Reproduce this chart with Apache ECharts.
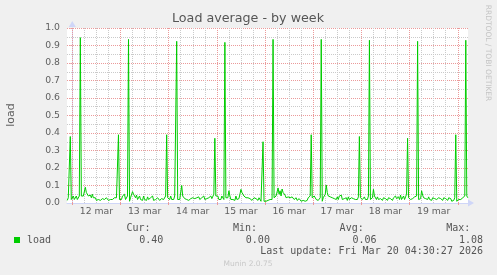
<!DOCTYPE html>
<html><head><meta charset="utf-8">
<script src="https://cdn.jsdelivr.net/npm/echarts@6/dist/echarts.min.js"></script>
<style>html,body{margin:0;padding:0;background:#f0f0f0;}#c{width:497px;height:275px;}</style>
</head><body><div id="c"></div>
<script>
// Time is in hours relative to Mar 12 00:00; one sample every 30 minutes
const startHour = -2.5; // Mar 11 21:30
const stepHours = 0.5;
const loadMar11 = [0.015,0.03,0.02,0.38,0.02]; // 21:30 - 23:30
const loadMar12 = [0.03,0.04,0.02,0.03,0.04,0.02,0.03,0.04, 0.945,0.04,0.03,0.04, 0.05,0.09,0.06,0.05, 0.04,0.05,0.045,0.03, 0.05,0.03,0.02,0.03, 0.015,0.025,0.02,0.03, 0.015,0.02,0.025,0.015, 0.02,0.02,0.03,0.02, 0.015,0.015,0.02,0.015, 0.02,0.025,0.03,0.02, 0.03,0.035,0.39,0.02];
const loadMar13 = [0.03,0.02,0.04,0.03,0.05,0.02,0.03,0.04, 0.935,0.01,0.03,0.02, 0.065,0.05,0.04,0.03, 0.045,0.02,0.03,0.04, 0.02,0.03,0.015,0.04, 0.02,0.03,0.015,0.035, 0.02,0.01,0.03,0.02, 0.04,0.015,0.025,0.02, 0.01,0.03,0.02,0.015, 0.02,0.025,0.015,0.02, 0.03,0.04,0.39,0.03];
const loadMar14 = [0.03,0.02,0.04,0.02,0.03,0.02,0.04,0.03, 0.924,0.02,0.03,0.02, 0.03,0.10,0.04,0.03, 0.025,0.02,0.02,0.03, 0.015,0.02,0.025,0.02, 0.03,0.02,0.025,0.015, 0.03,0.02,0.035,0.02, 0.025,0.03,0.02,0.04, 0.02,0.03,0.025,0.015, 0.03,0.02,0.04,0.025, 0.03,0.05,0.37,0.04];
const loadMar15 = [0.03,0.04,0.02,0.03,0.02,0.04,0.03,0.02, 0.918,0.03,0.02,0.03, 0.07,0.04,0.02,0.03, 0.02,0.03,0.015,0.04, 0.02,0.03,0.025,0.05, 0.078,0.06,0.05,0.04, 0.045,0.03,0.035,0.03, 0.02,0.025,0.03,0.015, 0.02,0.03,0.02,0.025, 0.02,0.015,0.03,0.02, 0.01,0.02,0.35,0.01];
const loadMar16 = [0.02,0.01,0.02,0.015,0.01,0.02,0.015,0.02, 0.935,0.03,0.02,0.04, 0.03,0.086,0.05,0.07, 0.04,0.08,0.06,0.05, 0.045,0.03,0.04,0.035, 0.025,0.03,0.02,0.035, 0.025,0.02,0.02,0.03, 0.015,0.02,0.025,0.015, 0.01,0.02,0.015,0.02, 0.01,0.02,0.015,0.03, 0.02,0.04,0.39,0.03];
const loadMar17 = [0.02,0.04,0.03,0.02,0.03,0.015,0.02,0.03, 0.935,0.01,0.03,0.02, 0.05,0.103,0.06,0.04, 0.05,0.035,0.045,0.03, 0.04,0.025,0.03,0.02, 0.035,0.02,0.04,0.03, 0.045,0.02,0.03,0.025, 0.02,0.03,0.015,0.035, 0.02,0.025,0.03,0.02, 0.025,0.015,0.02,0.03, 0.02,0.035,0.38,0.03];
const loadMar18 = [0.03,0.02,0.025,0.035,0.02,0.03,0.02,0.04, 0.93,0.02,0.03,0.03, 0.078,0.04,0.03,0.02, 0.035,0.02,0.03,0.025, 0.02,0.015,0.03,0.02, 0.025,0.02,0.015,0.03, 0.02,0.025,0.02,0.015, 0.03,0.02,0.04,0.025, 0.015,0.035,0.02,0.045, 0.02,0.03,0.04,0.02, 0.035,0.05,0.37,0.03];
const loadMar19 = [0.04,0.02,0.03,0.025,0.02,0.035,0.03,0.04, 0.924,0.02,0.03,0.025, 0.07,0.045,0.03,0.04, 0.025,0.03,0.02,0.035, 0.02,0.025,0.015,0.03, 0.02,0.025,0.03,0.02, 0.015,0.03,0.02,0.025, 0.02,0.015,0.03,0.02, 0.025,0.02,0.015,0.03, 0.02,0.025,0.01,0.02, 0.015,0.03,0.39,0.01];
const loadMar20 = [0.01,0.02,0.01,0.02,0.015,0.03,0.02,0.04, 0.93,0.04,0.03]; // 00:00 - 05:00

const dayLabels = ['12 mar','13 mar','14 mar','15 mar','16 mar','17 mar','18 mar','19 mar'];
const dayLabelHours = [12,36,60,84,108,132,156,180];
const dayLineHours = [0,24,48,72,96,120,144,168,192];
const yTicks = [0,0.1,0.2,0.3,0.4,0.5,0.6,0.7,0.8,0.9,1.0];

const statNames = ['Cur:','Min:','Avg:','Max:'];
const statValues = ['0.40','0.00','0.06','1.08'];
const seriesName = 'load';
const titleText = 'Load average - by week';
const lastUpdate = 'Last update: Fri Mar 20 04:30:27 2026';

const allLoad = [].concat(loadMar11, loadMar12, loadMar13, loadMar14, loadMar15, loadMar16, loadMar17, loadMar18, loadMar19, loadMar20);
const lineData = allLoad.map((v, i) => [startHour + i * stepHours, v]);

const xMin = -2.64, xMax = 197.1;
const minorLineHours = [];
for (let h = 6; h < xMax; h += 6) if (h % 24 !== 0) minorLineHours.push(h);

const SANS = 'DejaVu Sans';
const RED = '#eb9a9a', GRAY = '#cacaca', AXIS = '#CFD6F8', FONT = '#606060';

const chart = echarts.init(document.getElementById('c'), null, {renderer: 'canvas'});
chart.setOption({
  animation: false,
  backgroundColor: '#f0f0f0',
  grid: {left: 67, top: 28, width: 401, height: 175, show: true, backgroundColor: '#ffffff', borderWidth: 0, outerBoundsMode: 'none', containLabel: false},
  xAxis: [{
    type: 'value', min: xMin, max: xMax, z: 2,
    axisLine: {show: true, lineStyle: {color: AXIS, width: 1}, symbol: ['none','triangle'], symbolSize: [7,6], symbolOffset: [0,3]},
    axisTick: {show: true, length: 2, customValues: dayLineHours, lineStyle: {color: RED}},
    axisLabel: {customValues: dayLabelHours, margin: 4, color: FONT, fontFamily: SANS, fontSize: 9.3,
      formatter: v => dayLabels[dayLabelHours.indexOf(v)] || ''},
    splitLine: {show: true, lineStyle: {color: RED, type: [1,1], width: 1}}
  }, {
    type: 'value', min: xMin, max: xMax, position: 'bottom', z: 1,
    axisLine: {show: false},
    axisTick: {show: false, customValues: minorLineHours},
    axisLabel: {show: false, customValues: minorLineHours},
    splitLine: {show: true, lineStyle: {color: GRAY, type: [1,1], width: 1}}
  }],
  yAxis: {
    type: 'value', min: 0, max: 1, interval: 0.1,
    axisLine: {show: true, lineStyle: {color: AXIS, width: 1}, symbol: ['none','triangle'], symbolSize: [7,6], symbolOffset: [0,4]},
    axisTick: {show: true, length: 2, lineStyle: {color: RED}},
    axisLabel: {margin: 7, color: FONT, fontFamily: SANS, fontSize: 9.3, formatter: v => {
      const t = yTicks.find(x => Math.abs(x - v) < 1e-6); return (t !== undefined ? t : v).toFixed(1);}},
    splitLine: {show: true, lineStyle: {color: RED, type: [1,1], width: 1}},
    minorTick: {show: false, splitNumber: 2},
    minorSplitLine: {show: true, lineStyle: {color: GRAY, type: [1,1], width: 1}}
  },
  series: [
    {name: seriesName, type: 'line', data: lineData, xAxisIndex: 0, z: 3, showSymbol: false, symbol: 'none',
      lineStyle: {color: '#00cc00', width: 1}, itemStyle: {color: '#00cc00'}}
  ],
  graphic: [
    {type: 'text', x: 248, y: 19, style: {text: titleText, font: '12.7px "DejaVu Sans"', fill: '#555', align: 'center', verticalAlign: 'middle'}},
    {type: 'text', x: 11, y: 115, rotation: Math.PI / 2, style: {text: seriesName, font: '11px "DejaVu Sans"', fill: FONT, align: 'center', verticalAlign: 'middle'}},
    {type: 'text', x: 488, y: 53, rotation: -Math.PI / 2, style: {text: 'RRDTOOL / TOBI OETIKER', font: '7.5px "DejaVu Sans"', fill: '#c4c4c4', align: 'center', verticalAlign: 'middle'}},
    {type: 'rect', shape: {x: 14, y: 237, width: 6, height: 6}, style: {fill: '#00cc00'}},
    {type: 'text', x: 27, y: 240, style: {text: seriesName, font: '10px "DejaVu Sans Mono"', fill: '#555', align: 'left', verticalAlign: 'middle'}},
    ...statNames.map((s, i) => ({type: 'text', x: 150.5 + i * 106.6, y: 228, style: {text: s, font: '10px "DejaVu Sans Mono"', fill: '#555', align: 'right', verticalAlign: 'middle'}})),
    ...statValues.map((s, i) => ({type: 'text', x: 163.3 + i * 106.6, y: 240, style: {text: s, font: '10px "DejaVu Sans Mono"', fill: '#555', align: 'right', verticalAlign: 'middle'}})),
    {type: 'text', x: 483, y: 251.5, style: {text: lastUpdate, font: '10px "DejaVu Sans Mono"', fill: '#555', align: 'right', verticalAlign: 'middle'}},
    {type: 'text', x: 248, y: 264.5, style: {text: 'Munin 2.0.75', font: '7.5px "DejaVu Sans"', fill: '#c8c8c8', align: 'center', verticalAlign: 'middle'}}
  ]
});
</script>
</body></html>
